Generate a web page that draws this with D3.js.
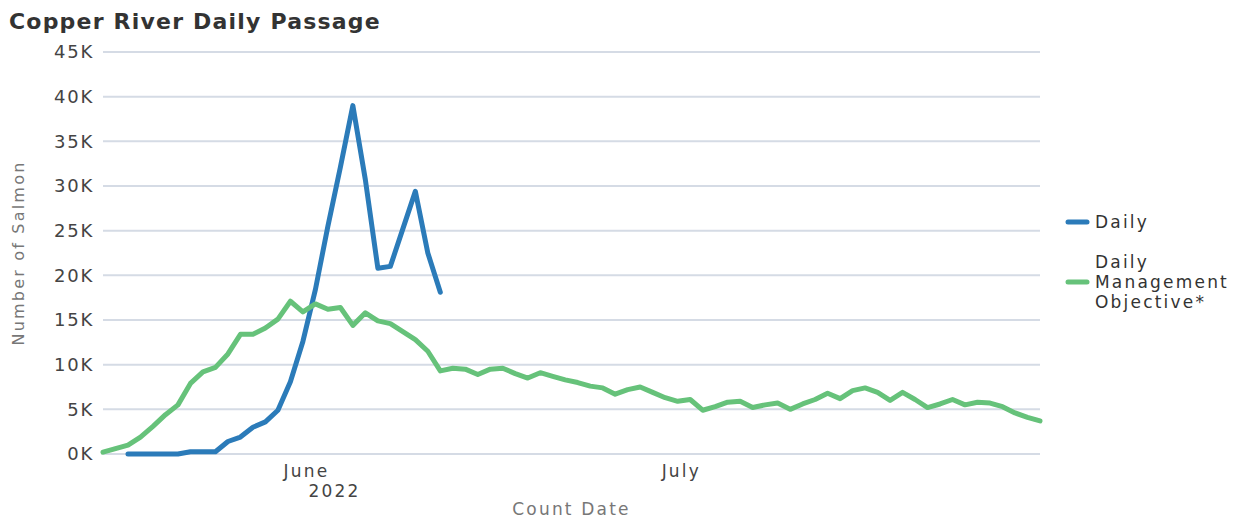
<!DOCTYPE html>
<html>
<head>
<meta charset="utf-8">
<script src="https://cdn.jsdelivr.net/npm/d3@7/dist/d3.min.js"></script>
<style>
  body { margin: 0; background: #fff; }
  svg { display: block; font-family: 'DejaVu Sans', sans-serif; }
</style>
</head>
<body>
<div id="plot"></div>
<script>
'use strict';

// daily counts, 2022; green runs May 15 - Jul 29, blue starts May 17
const mgmtStart = '2022-05-15'
const dailyStart = '2022-05-17'

const mgmtObjective = [
  200, 600, 1000, 1900, 3100, 4400, 5500, 7900, 9200, 9700,
  11200, 13400, 13400, 14100, 15100, 17100, 15900, 16800, 16200, 16400,
  14400, 15800, 14900, 14600, 13700, 12800, 11500, 9300, 9600, 9500,
  8900, 9500, 9600, 9000, 8500, 9100, 8700, 8300, 8000, 7600,
  7400, 6700, 7200, 7500, 6900, 6300, 5900, 6100, 4900, 5300,
  5800, 5900, 5200, 5500, 5700, 5000, 5600, 6100, 6800, 6200,
  7100, 7400, 6900, 6000, 6900, 6100, 5200, 5600, 6100, 5500,
  5800, 5700, 5300, 4600, 4100, 3700
]

const daily = [
  0, 0, 0, 0, 0, 250, 250, 250, 1400, 1900,
  3000, 3600, 4900, 8100, 12600, 18400, 25500, 32100, 39000, 30700,
  20800, 21000, 25200, 29400, 22500, 18100
]

const yTicks = [0, 5000, 10000, 15000, 20000, 25000, 30000, 35000, 40000, 45000]
const monthTicks = [['2022-06-01', 'June', '2022'], ['2022-07-01', 'July', '']]
const legendItems = [
  {name: ['Daily'], color: '#2b7bb9'},
  {name: ['Daily', 'Management', 'Objective*'], color: '#66c27a'}
]

const width = 1245, height = 518
const m = {left: 103, right: 1040, top: 52, bottom: 454}

function dayList(start, n) {
  let d0 = d3.timeHour.offset(new Date(start + 'T00:00'), 17)
  return d3.range(n).map(i => d3.timeDay.offset(d0, i))
}

let mgmtDays = dayList(mgmtStart, mgmtObjective.length)
let dailyDays = dayList(dailyStart, daily.length)

let svg = d3.select('#plot').append('svg')
  .attr('width', width)
  .attr('height', height)

let x = d3.scaleTime()
  .domain([mgmtDays[0], mgmtDays[mgmtDays.length - 1]])
  .range([m.left, m.right])
let y = d3.scaleLinear()
  .domain([0, 45000])
  .range([m.bottom, m.top])

// grid
svg.append('g')
  .selectAll('line')
  .data(yTicks)
  .enter()
  .append('line')
  .attr('x1', m.left)
  .attr('x2', m.right)
  .attr('y1', d => y(d))
  .attr('y2', d => y(d))
  .attr('stroke', '#d5dbe5')
  .attr('stroke-width', 2)

let y_axis = d3.axisLeft(y)
  .tickValues(yTicks)
  .tickSize(0)
  .tickPadding(9)
  .tickFormat(d => (d / 1000) + 'K')
let yg = svg.append('g')
  .attr('transform', `translate(${m.left}, 0)`)
  .call(y_axis)
yg.select('.domain').remove()
yg.selectAll('text')
  .attr('fill', '#444')
  .attr('font-size', '18px')
  .attr('letter-spacing', '1.8px')
  .attr('font-family', "'DejaVu Sans', sans-serif")

// month labels
let xg = svg.append('g')
  .attr('fill', '#444')
  .attr('font-size', '17px')
  .attr('letter-spacing', '2.2px')
xg.selectAll('text.month')
  .data(monthTicks)
  .enter()
  .append('text')
  .attr('x', d => x(new Date(d[0] + 'T00:00')))
  .attr('y', 477)
  .attr('text-anchor', 'middle')
  .text(d => d[1])
xg.selectAll('text.year')
  .data(monthTicks.filter(d => d[2] != ''))
  .enter()
  .append('text')
  .attr('x', d => x(new Date(d[0] + 'T00:00')) + 28)
  .attr('y', 497)
  .attr('text-anchor', 'middle')
  .text(d => d[2])

svg.append('text')
  .attr('x', (m.left + m.right) / 2)
  .attr('y', 515)
  .attr('text-anchor', 'middle')
  .attr('fill', '#777')
  .attr('font-size', '17px')
  .attr('letter-spacing', '2.2px')
  .text('Count Date')

svg.append('text')
  .attr('transform', `translate(24, ${(m.top + m.bottom) / 2}) rotate(-90)`)
  .attr('text-anchor', 'middle')
  .attr('fill', '#777')
  .attr('font-size', '16px')
  .attr('letter-spacing', '2.2px')
  .text('Number of Salmon')

svg.append('text')
  .attr('x', 9)
  .attr('y', 29)
  .attr('fill', '#333')
  .attr('font-size', '22px')
  .attr('font-weight', 'bold')
  .attr('letter-spacing', '1.2px')
  .text('Copper River Daily Passage')

// series
let line = function(days, values, color) {
  let path = d3.line()
    .x((d, i) => x(days[i]))
    .y(d => y(d))
  svg.append('path')
    .attr('d', path(values))
    .attr('fill', 'none')
    .attr('stroke', color)
    .attr('stroke-width', 5)
    .attr('stroke-linejoin', 'round')
    .attr('stroke-linecap', 'round')
}
line(dailyDays, daily, legendItems[0].color)
line(mgmtDays, mgmtObjective, legendItems[1].color)

// legend
let legendY = [222, 282]
legendItems.forEach(function(item, k) {
  let g = svg.append('g')
  g.append('line')
    .attr('x1', 1068)
    .attr('x2', 1087)
    .attr('y1', legendY[k])
    .attr('y2', legendY[k])
    .attr('stroke', item.color)
    .attr('stroke-width', 5)
    .attr('stroke-linecap', 'round')
  let n = item.name.length
  g.selectAll('text')
    .data(item.name)
    .enter()
    .append('text')
    .attr('x', 1095)
    .attr('y', (d, i) => legendY[k] + 6 + (i - (n - 1) / 2) * 20)
    .attr('fill', '#333')
    .attr('font-size', '17px')
    .attr('letter-spacing', '2.2px')
    .text(d => d)
})
</script>
</body>
</html>
